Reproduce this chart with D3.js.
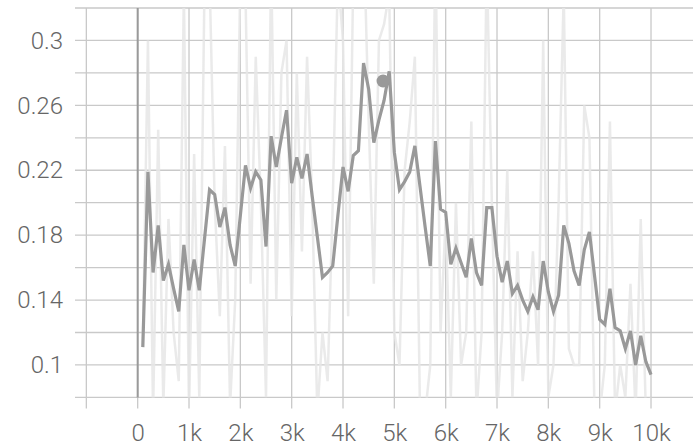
<!DOCTYPE html>
<html>
<head>
<meta charset="utf-8">
<script src="https://cdn.jsdelivr.net/npm/d3@7"></script>
<style>
  html, body { margin: 0; padding: 0; background: #fff; }
  svg { display: block; }
  text { font-family: Roboto, "Noto Sans", sans-serif; font-weight: 300; fill: #666; }
</style>
</head>
<body>
<svg id="chart" width="693" height="446"></svg>
<script>
const steps = [100,200,300,400,500,600,700,800,900,1000,1100,1200,1300,1400,1500,1600,1700,1800,1900,2000,
  2100,2200,2300,2400,2500,2600,2700,2800,2900,3000,3100,3200,3300,3400,3500,3600,3700,3800,3900,4000,
  4100,4200,4300,4400,4500,4600,4700,4800,4900,5000,5100,5200,5300,5400,5500,5600,5700,5800,5900,6000,
  6100,6200,6300,6400,6500,6600,6700,6800,6900,7000,7100,7200,7300,7400,7500,7600,7700,7800,7900,8000,
  8100,8200,8300,8400,8500,8600,8700,8800,8900,9000,9100,9200,9300,9400,9500,9600,9700,9800,9900,10000];

const smoothed = [0.111,0.219,0.157,0.186,0.152,0.162,0.147,0.133,0.174,0.146,0.165,0.146,0.177,0.208,0.205,0.185,0.197,0.174,0.161,0.192,
  0.223,0.209,0.219,0.214,0.173,0.241,0.222,0.240,0.257,0.212,0.228,0.215,0.230,0.204,0.179,0.154,0.157,0.161,0.192,0.222,
  0.207,0.229,0.232,0.286,0.270,0.237,0.251,0.263,0.281,0.231,0.208,0.213,0.219,0.235,0.210,0.185,0.161,0.238,0.196,0.194,
  0.162,0.172,0.163,0.154,0.178,0.157,0.149,0.197,0.197,0.167,0.151,0.164,0.144,0.149,0.140,0.133,0.142,0.134,0.164,0.145,
  0.133,0.143,0.186,0.175,0.158,0.149,0.171,0.182,0.155,0.128,0.125,0.147,0.123,0.121,0.110,0.121,0.100,0.118,0.102,0.094];

const raw = [0.111,0.30,0.07,0.245,0.075,0.19,0.12,0.09,0.33,0.07,0.23,0.08,0.33,0.34,0.20,0.13,0.235,0.075,0.14,0.34,
  0.33,0.15,0.29,0.20,0.08,0.35,0.14,0.28,0.30,0.13,0.28,0.17,0.29,0.20,0.07,0.12,0.09,0.20,0.34,0.30,
  0.13,0.34,0.33,0.37,0.25,0.15,0.30,0.31,0.33,0.12,0.10,0.22,0.25,0.29,0.07,0.07,0.10,0.36,0.12,0.19,
  0.08,0.20,0.10,0.12,0.25,0.07,0.12,0.35,0.20,0.07,0.12,0.22,0.08,0.17,0.09,0.12,0.17,0.10,0.30,0.08,
  0.10,0.20,0.33,0.11,0.10,0.10,0.26,0.24,0.07,0.07,0.10,0.25,0.07,0.10,0.08,0.15,0.07,0.19,0.07,0.08];

const xTicks = [-1000,0,1000,2000,3000,4000,5000,6000,7000,8000,9000,10000];
const xTickLabels = ["","0","1k","2k","3k","4k","5k","6k","7k","8k","9k","10k"];
const yGrid = [0.08,0.10,0.12,0.14,0.16,0.18,0.20,0.22,0.24,0.26,0.28,0.30,0.32];
const yTickValues = [0.1,0.14,0.18,0.22,0.26,0.3];
const yTickLabels = ["0.1","0.14","0.18","0.22","0.26","0.3"];
const hoverPoint = { step: 4780, value: 0.275 };

const svg = d3.select("#chart");
const pLeft = 75, pRight = 693, pTop = 8, pBottom = 397.4;

const x = d3.scaleLinear().domain([-1221, 10818]).range([pLeft, pRight]);
const y = d3.scaleLinear().domain([0.08, 0.32]).range([pBottom, pTop]);

svg.append("defs").append("clipPath").attr("id", "clip")
  .append("rect").attr("x", pLeft).attr("y", pTop).attr("width", pRight - pLeft).attr("height", pBottom - pTop);

// horizontal gridlines
svg.append("g").selectAll("line").data(yGrid).join("line")
  .attr("x1", pLeft).attr("x2", pRight)
  .attr("y1", d => y(d)).attr("y2", d => y(d))
  .attr("stroke", "#c9c9c9").attr("stroke-width", 1.3);

// vertical gridlines + tick marks
svg.append("g").selectAll("line").data(xTicks).join("line")
  .attr("x1", d => x(d)).attr("x2", d => x(d))
  .attr("y1", pTop).attr("y2", pBottom + 11)
  .attr("stroke", "#c9c9c9").attr("stroke-width", 1.3);

// zero line
svg.append("line")
  .attr("x1", x(0)).attr("x2", x(0)).attr("y1", pTop).attr("y2", pBottom)
  .attr("stroke", "#9a9a9a").attr("stroke-width", 2);

const xAxis = d3.axisBottom(x).tickValues(xTicks).tickSize(0).tickPadding(0)
  .tickFormat((d, i) => xTickLabels[i]);
const gx = svg.append("g").attr("transform", `translate(0,${pBottom + 26.5})`).call(xAxis);
gx.select(".domain").remove();
gx.selectAll("text").attr("font-size", 24).attr("fill", "#666")
  .attr("font-family", "Roboto, sans-serif").attr("font-weight", 300).attr("dy", "0.71em");

const yAxis = d3.axisLeft(y).tickValues(yTickValues).tickSize(0).tickPadding(0)
  .tickFormat((d, i) => yTickLabels[i]);
const gy = svg.append("g").attr("transform", `translate(63,0)`).call(yAxis);
gy.select(".domain").remove();
gy.selectAll("text").attr("font-size", 24).attr("fill", "#666")
  .attr("font-family", "Roboto, sans-serif").attr("font-weight", 300);

const rawData = steps.map((s, i) => [s, raw[i]]);
const smData = steps.map((s, i) => [s, smoothed[i]]);
const line = d3.line().x(d => x(d[0])).y(d => y(d[1]));

const plot = svg.append("g").attr("clip-path", "url(#clip)");
plot.append("path").datum(rawData).attr("d", line)
  .attr("fill", "none").attr("stroke", "#e6e6e6").attr("stroke-width", 2.5).attr("stroke-opacity", 0.85);
plot.append("path").datum(smData).attr("d", line)
  .attr("fill", "none").attr("stroke", "#999").attr("stroke-width", 3.2);
plot.append("circle").attr("cx", x(hoverPoint.step)).attr("cy", y(hoverPoint.value))
  .attr("r", 6.5).attr("fill", "#999");
</script>
</body>
</html>
